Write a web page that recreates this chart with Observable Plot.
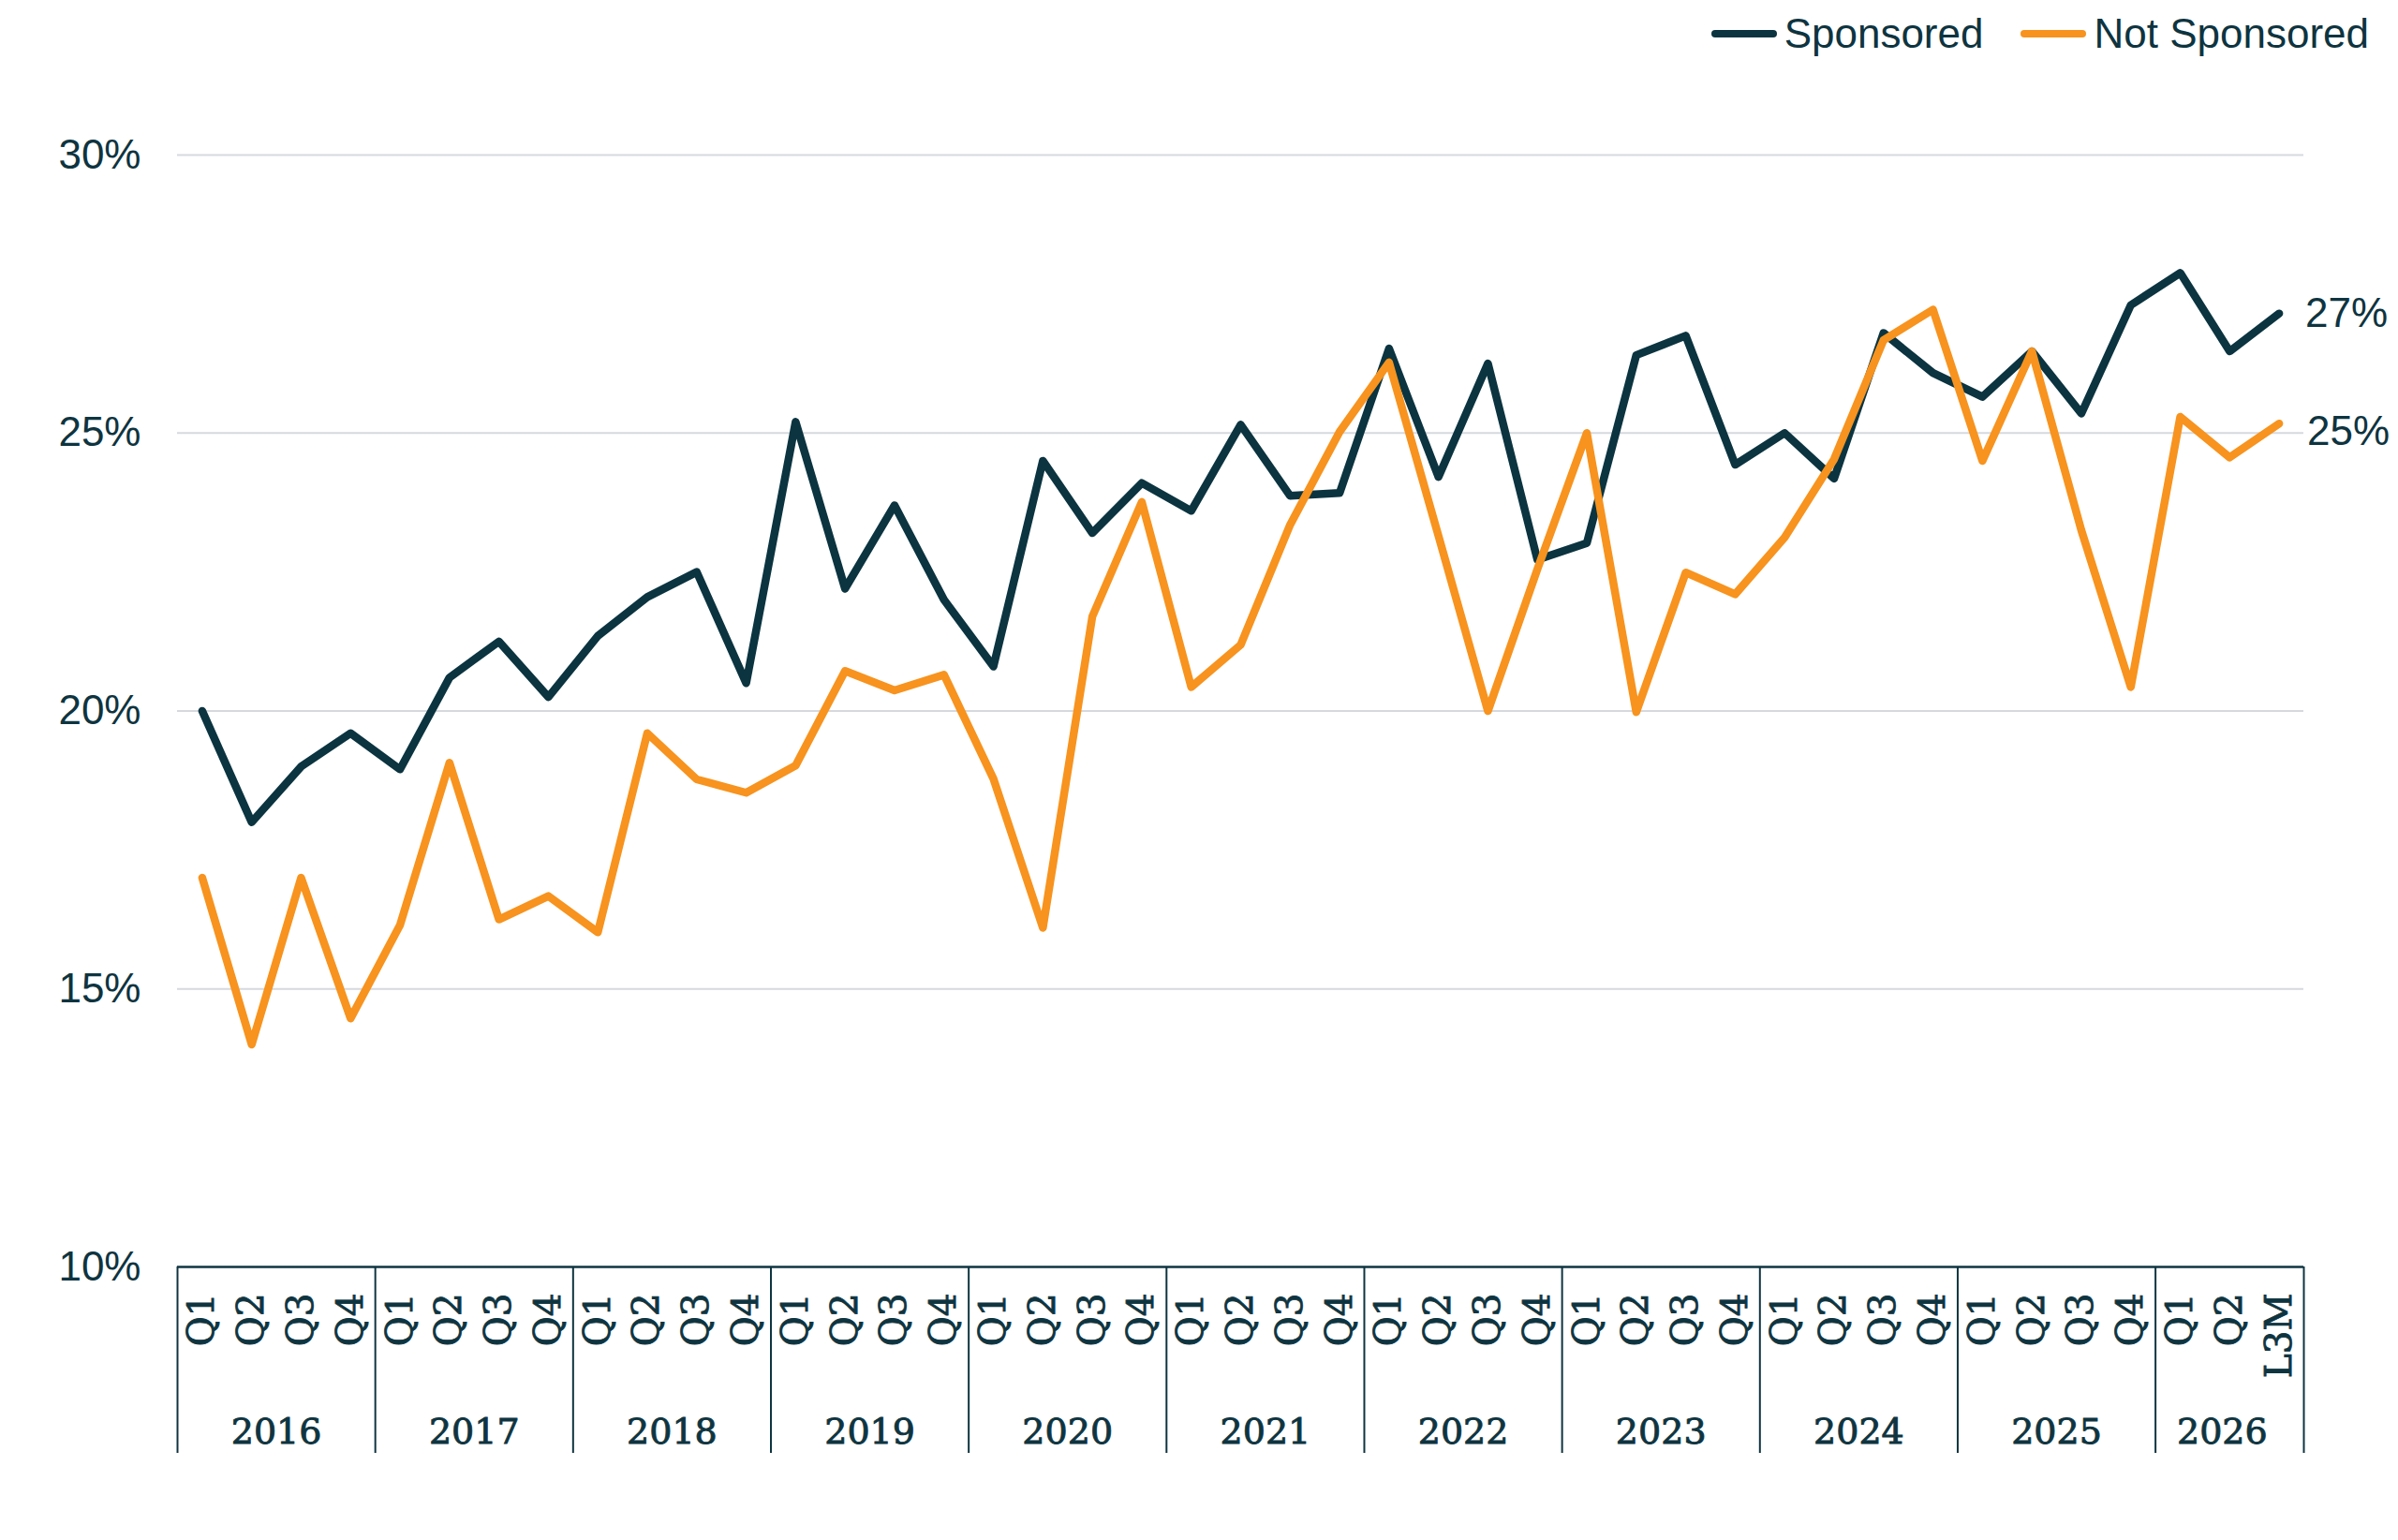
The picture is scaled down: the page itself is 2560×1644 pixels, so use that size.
<!DOCTYPE html>
<html>
<head>
<meta charset="utf-8">
<script src="https://cdn.jsdelivr.net/npm/d3@7"></script>
<script src="https://cdn.jsdelivr.net/npm/@observablehq/plot@0.6"></script>
<style>
  html, body { margin: 0; padding: 0; background: #ffffff; }
  #legend {
    height: 72px; display: flex; justify-content: flex-end; align-items: center;
    padding-right: 31px; font-family: "Liberation Sans", Arial, sans-serif;
    font-size: 44px; color: #0e3440;
  }
  #legend .sw { width: 70px; height: 8px; border-radius: 4px; margin-right: 8px; }
  #legend .item { display: flex; align-items: center; }
  #legend .item + .item { margin-left: 40px; }
  #chart svg { display: block; }
  #chart g[aria-label="x-axis tick label"] text,
  #chart g.year-label text { stroke: #0e3440; stroke-width: 0.9px; }
</style>
</head>
<body>
<div id="legend"></div>
<div id="chart"></div>
<script>
const years = [2016, 2017, 2018, 2019, 2020, 2021, 2022, 2023, 2024, 2025, 2026];
const periodYears = [
  2016,2016,2016,2016, 2017,2017,2017,2017, 2018,2018,2018,2018, 2019,2019,2019,2019,
  2020,2020,2020,2020, 2021,2021,2021,2021, 2022,2022,2022,2022, 2023,2023,2023,2023,
  2024,2024,2024,2024, 2025,2025,2025,2025, 2026,2026,2026
];
const periodLabels = [
  "Q1","Q2","Q3","Q4", "Q1","Q2","Q3","Q4", "Q1","Q2","Q3","Q4", "Q1","Q2","Q3","Q4",
  "Q1","Q2","Q3","Q4", "Q1","Q2","Q3","Q4", "Q1","Q2","Q3","Q4", "Q1","Q2","Q3","Q4",
  "Q1","Q2","Q3","Q4", "Q1","Q2","Q3","Q4", "Q1","Q2","L3M"
];
const sponsored = [
  20.0, 18.0, 19.0, 19.6,   18.95, 20.6, 21.25, 20.25,  21.35, 22.05, 22.5, 20.5,
  25.2, 22.2, 23.7, 22.0,   20.8, 24.5, 23.2, 24.1,     23.6, 25.15, 23.87, 23.92,
  26.52, 24.21, 26.25, 22.72, 23.02, 26.4, 26.75, 24.43, 25.0, 24.18, 26.8, 26.08,
  25.65, 26.47, 25.35, 27.3, 27.88, 26.47, 27.15
];
const notSponsored = [
  17.0, 14.0, 17.0, 14.47,  16.15, 19.07, 16.25, 16.67, 16.02, 19.6, 18.77, 18.53,
  19.02, 20.72, 20.37, 20.65, 18.78, 16.1, 21.7, 23.76, 20.43, 21.19, 23.35, 25.02,
  26.27, 23.15, 20.0, 22.55, 25.0, 19.98, 22.49, 22.1,  23.12, 24.53, 26.67, 27.22,
  24.5, 26.47, 23.25, 20.43, 25.29, 24.56, 25.17
];
const seriesNames = ["Sponsored", "Not Sponsored"];
const seriesColors = ["#0b3440", "#f7931e"];
const yTicks = [10, 15, 20, 25, 30];
const gridTicks = [15, 20, 25, 30];

const keys = periodYears.map((y, i) => y + " " + periodLabels[i] + " " + i);
const labelOf = new Map(keys.map((k, i) => [k, periodLabels[i]]));
const data = [];
keys.forEach((k, i) => {
  data.push({key: k, series: seriesNames[0], value: sponsored[i]});
  data.push({key: k, series: seriesNames[1], value: notSponsored[i]});
});
const lastIdx = keys.length - 1;
const endLabels = [
  {key: keys[lastIdx], series: seriesNames[0], value: sponsored[lastIdx]},
  {key: keys[lastIdx], series: seriesNames[1], value: notSponsored[lastIdx]}
];

const yearInfo = years.map(y => {
  const idx = periodYears.map((py, i) => py === y ? i : -1).filter(i => i >= 0);
  return {year: y, first: keys[idx[0]], n: idx.length, idx};
});

const W = 2560, H = 1572;
const mL = 189, mR = 101, mT = 93, mB = 292;
const step = (W - mL - mR) / keys.length;
const ink = "#0e3440";
const serif = '"DejaVu Serif", "Liberation Serif", serif';
const sans = '"Liberation Sans", Arial, sans-serif';

const yearLabelsEven = yearInfo.filter(g => g.n % 2 === 0)
  .map(g => ({year: String(g.year), key: keys[g.idx[g.n / 2 - 1]]}));
const yearLabelsOdd = yearInfo.filter(g => g.n % 2 === 1)
  .map(g => ({year: String(g.year), key: keys[g.idx[(g.n - 1) / 2]]}));

const dividerStarts = yearInfo.map(g => g.first);

const chart = Plot.plot({
  width: W, height: H,
  marginLeft: mL, marginRight: mR, marginTop: mT, marginBottom: mB,
  style: {background: "#ffffff", color: ink},
  x: {type: "point", domain: keys, padding: 0.5, align: 0.5},
  y: {domain: [10, 30]},
  marks: [
    Plot.ruleY(gridTicks, {stroke: "#d5d9de", strokeWidth: 2}),
    Plot.axisY({
      ticks: yTicks, tickFormat: d => d + "%", tickSize: 0, tickPadding: 39,
      fontSize: 44, fontFamily: sans, label: null, fill: ink
    }),
    Plot.axisX({
      tickSize: 0, tickPadding: 28, tickRotate: -90, label: null,
      tickFormat: k => labelOf.get(k),
      fontSize: 39, fontFamily: serif, fill: ink
    }),
    Plot.ruleX(dividerStarts, {x: d => d, y1: 10, y2: 10, dx: -step / 2, stroke: ink, strokeWidth: 2,
      insetBottom: -199}),
    Plot.ruleX([keys[lastIdx]], {x: d => d, y1: 10, y2: 10, dx: step / 2, stroke: ink, strokeWidth: 2,
      insetBottom: -199}),
    Plot.ruleY([10], {stroke: ink, strokeWidth: 2.5}),
    Plot.text(yearLabelsEven, {
      x: "key", y: 10, text: "year", dx: step / 2, dy: 176, className: "year-label",
      fontSize: 38, fontFamily: serif, fill: ink
    }),
    Plot.text(yearLabelsOdd, {
      x: "key", y: 10, text: "year", dx: -8, dy: 176, className: "year-label",
      fontSize: 38, fontFamily: serif, fill: ink
    }),
    Plot.line(data, {
      x: "key", y: "value", z: "series",
      stroke: d => d.series === seriesNames[0] ? seriesColors[0] : seriesColors[1],
      strokeWidth: 8.5, strokeLinejoin: "round", strokeLinecap: "round"
    }),
    Plot.text(endLabels.slice(0, 1), {
      x: "key", y: "value", text: d => Math.round(d.value) + "%", textAnchor: "start", dx: 28,
      fontSize: 44, fontFamily: sans, fill: ink
    }),
    Plot.text(endLabels.slice(1), {
      x: "key", y: "value", text: d => Math.round(d.value) + "%", textAnchor: "start", dx: 30, dy: 9,
      fontSize: 44, fontFamily: sans, fill: ink
    })
  ]
});
document.getElementById("chart").appendChild(chart);

const legend = document.getElementById("legend");
seriesNames.forEach((name, i) => {
  const item = document.createElement("div");
  item.className = "item";
  const sw = document.createElement("div");
  sw.className = "sw";
  sw.style.background = seriesColors[i];
  const label = document.createElement("span");
  label.textContent = name;
  item.appendChild(sw);
  item.appendChild(label);
  legend.appendChild(item);
});
</script>
</body>
</html>
